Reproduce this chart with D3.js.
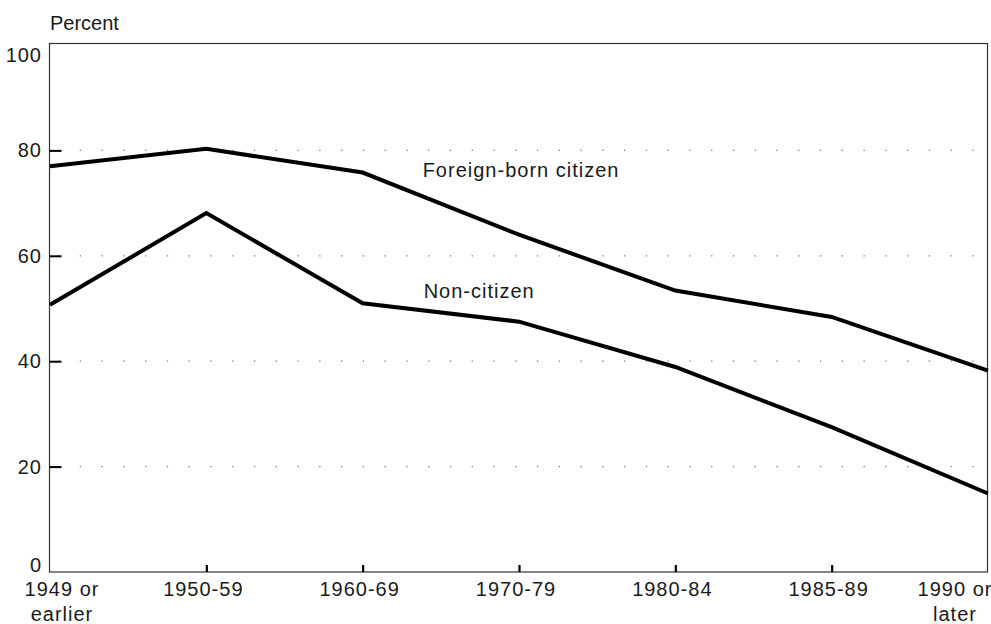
<!DOCTYPE html>
<html>
<head>
<meta charset="utf-8">
<script src="https://cdn.jsdelivr.net/npm/d3@7"></script>
<style>
  html, body { margin: 0; padding: 0; background: #fff; }
  svg { display: block; }
  text { font-family: "Liberation Sans", Arial, sans-serif; fill: #1a1a1a; }
</style>
</head>
<body>
<svg id="chart" width="991" height="624"></svg>
<script>
// ---- data ----
const categories = ["1949 or\nearlier", "1950-59", "1960-69", "1970-79", "1980-84", "1985-89", "1990 or\nlater"];
const foreignBornCitizen = [77.0, 80.3, 75.8, 64.0, 53.4, 48.4, 38.2];
const nonCitizen = [50.7, 68.1, 51.0, 47.5, 38.9, 27.5, 14.9];
const seriesNames = ["Foreign-born citizen", "Non-citizen"];
const yTicks = [0, 20, 40, 60, 80, 100];
const yGrid = [20, 40, 60, 80];
const yTitle = "Percent";

(function () {
// ---- layout ----
const pL = 49.5, pR = 987.5, pT = 43.5, pB = 572;
const svg = d3.select("#chart");

const x = d3.scalePoint().domain(categories).range([50, 988]);
const y = d3.scaleLinear().domain([0, 100]).range([pB, 45]);

// gridlines (dotted)
svg.append("g").selectAll("line").data(yGrid).join("line")
  .attr("x1", 58).attr("x2", pR)
  .attr("y1", d => y(d)).attr("y2", d => y(d))
  .attr("stroke", "#777").attr("stroke-width", 1.2)
  .attr("stroke-dasharray", "1.3,20.47");

// frame
svg.append("rect")
  .attr("x", pL).attr("y", pT)
  .attr("width", pR - pL).attr("height", pB - pT)
  .attr("fill", "none").attr("stroke", "#333").attr("stroke-width", 1.2);

// y axis ticks (inside)
const yAxis = d3.axisRight(y).tickValues(yTicks.filter(d => d > 0 && d < 100)).tickSize(12).tickFormat("");
const gy = svg.append("g").attr("transform", `translate(${pL},0)`).call(yAxis);
gy.select(".domain").remove();
gy.selectAll(".tick line").attr("stroke", "#000").attr("stroke-width", 2);

// y tick labels
svg.append("g").selectAll("text").data(yTicks).join("text")
  .attr("x", 42)
  .attr("y", d => d === 100 ? y(d) + 16.5 : (d === 0 ? y(d) - 0.5 : y(d) + 7))
  .attr("text-anchor", "end")
  .attr("font-size", 20)
  .attr("letter-spacing", 1)
  .text(d => d);

// x axis ticks (inside, pointing up)
const xAxis = d3.axisTop(x).tickValues(categories.slice(1, -1)).tickSize(7).tickFormat("");
const gx = svg.append("g").attr("transform", `translate(0,${pB})`).call(xAxis);
gx.select(".domain").remove();
gx.selectAll(".tick line").attr("stroke", "#000").attr("stroke-width", 2.2);

// x labels
const n = categories.length;
const xl = svg.append("g").selectAll("text").data(categories).join("text")
  .attr("x", (d, i) => x(d) + (i === 0 ? 12 : (i === n - 1 ? -33 : -3)))
  .attr("y", 596)
  .attr("text-anchor", "middle")
  .attr("font-size", 20)
  .attr("letter-spacing", 1);
xl.each(function (d) {
  const el = d3.select(this);
  const lines = d.split("\n");
  el.selectAll("tspan").data(lines).join("tspan")
    .attr("x", el.attr("x"))
    .attr("dy", (l, j) => j === 0 ? 0 : 25)
    .text(l => l);
});

// y title
svg.append("text").attr("x", 50).attr("y", 30)
  .attr("font-size", 20).text(yTitle);

// lines
const line = d3.line().x((d, i) => x(categories[i])).y(d => y(d));
svg.append("clipPath").attr("id", "plotclip")
  .append("rect").attr("x", pL - 1).attr("y", pT).attr("width", pR - pL + 2).attr("height", pB - pT);
[foreignBornCitizen, nonCitizen].forEach(s => {
  svg.append("path").datum(s)
    .attr("d", line)
    .attr("fill", "none")
    .attr("stroke", "#000")
    .attr("stroke-width", 4)
    .attr("stroke-linejoin", "miter")
    .attr("clip-path", "url(#plotclip)");
});

// series labels
svg.append("text").attr("x", x(categories[2]) + 60).attr("y", y(75))
  .attr("font-size", 20).attr("letter-spacing", 1).text(seriesNames[0]);
svg.append("text").attr("x", x(categories[2]) + 61).attr("y", y(52))
  .attr("font-size", 20).attr("letter-spacing", 1).text(seriesNames[1]);
})();
</script>
</body>
</html>
